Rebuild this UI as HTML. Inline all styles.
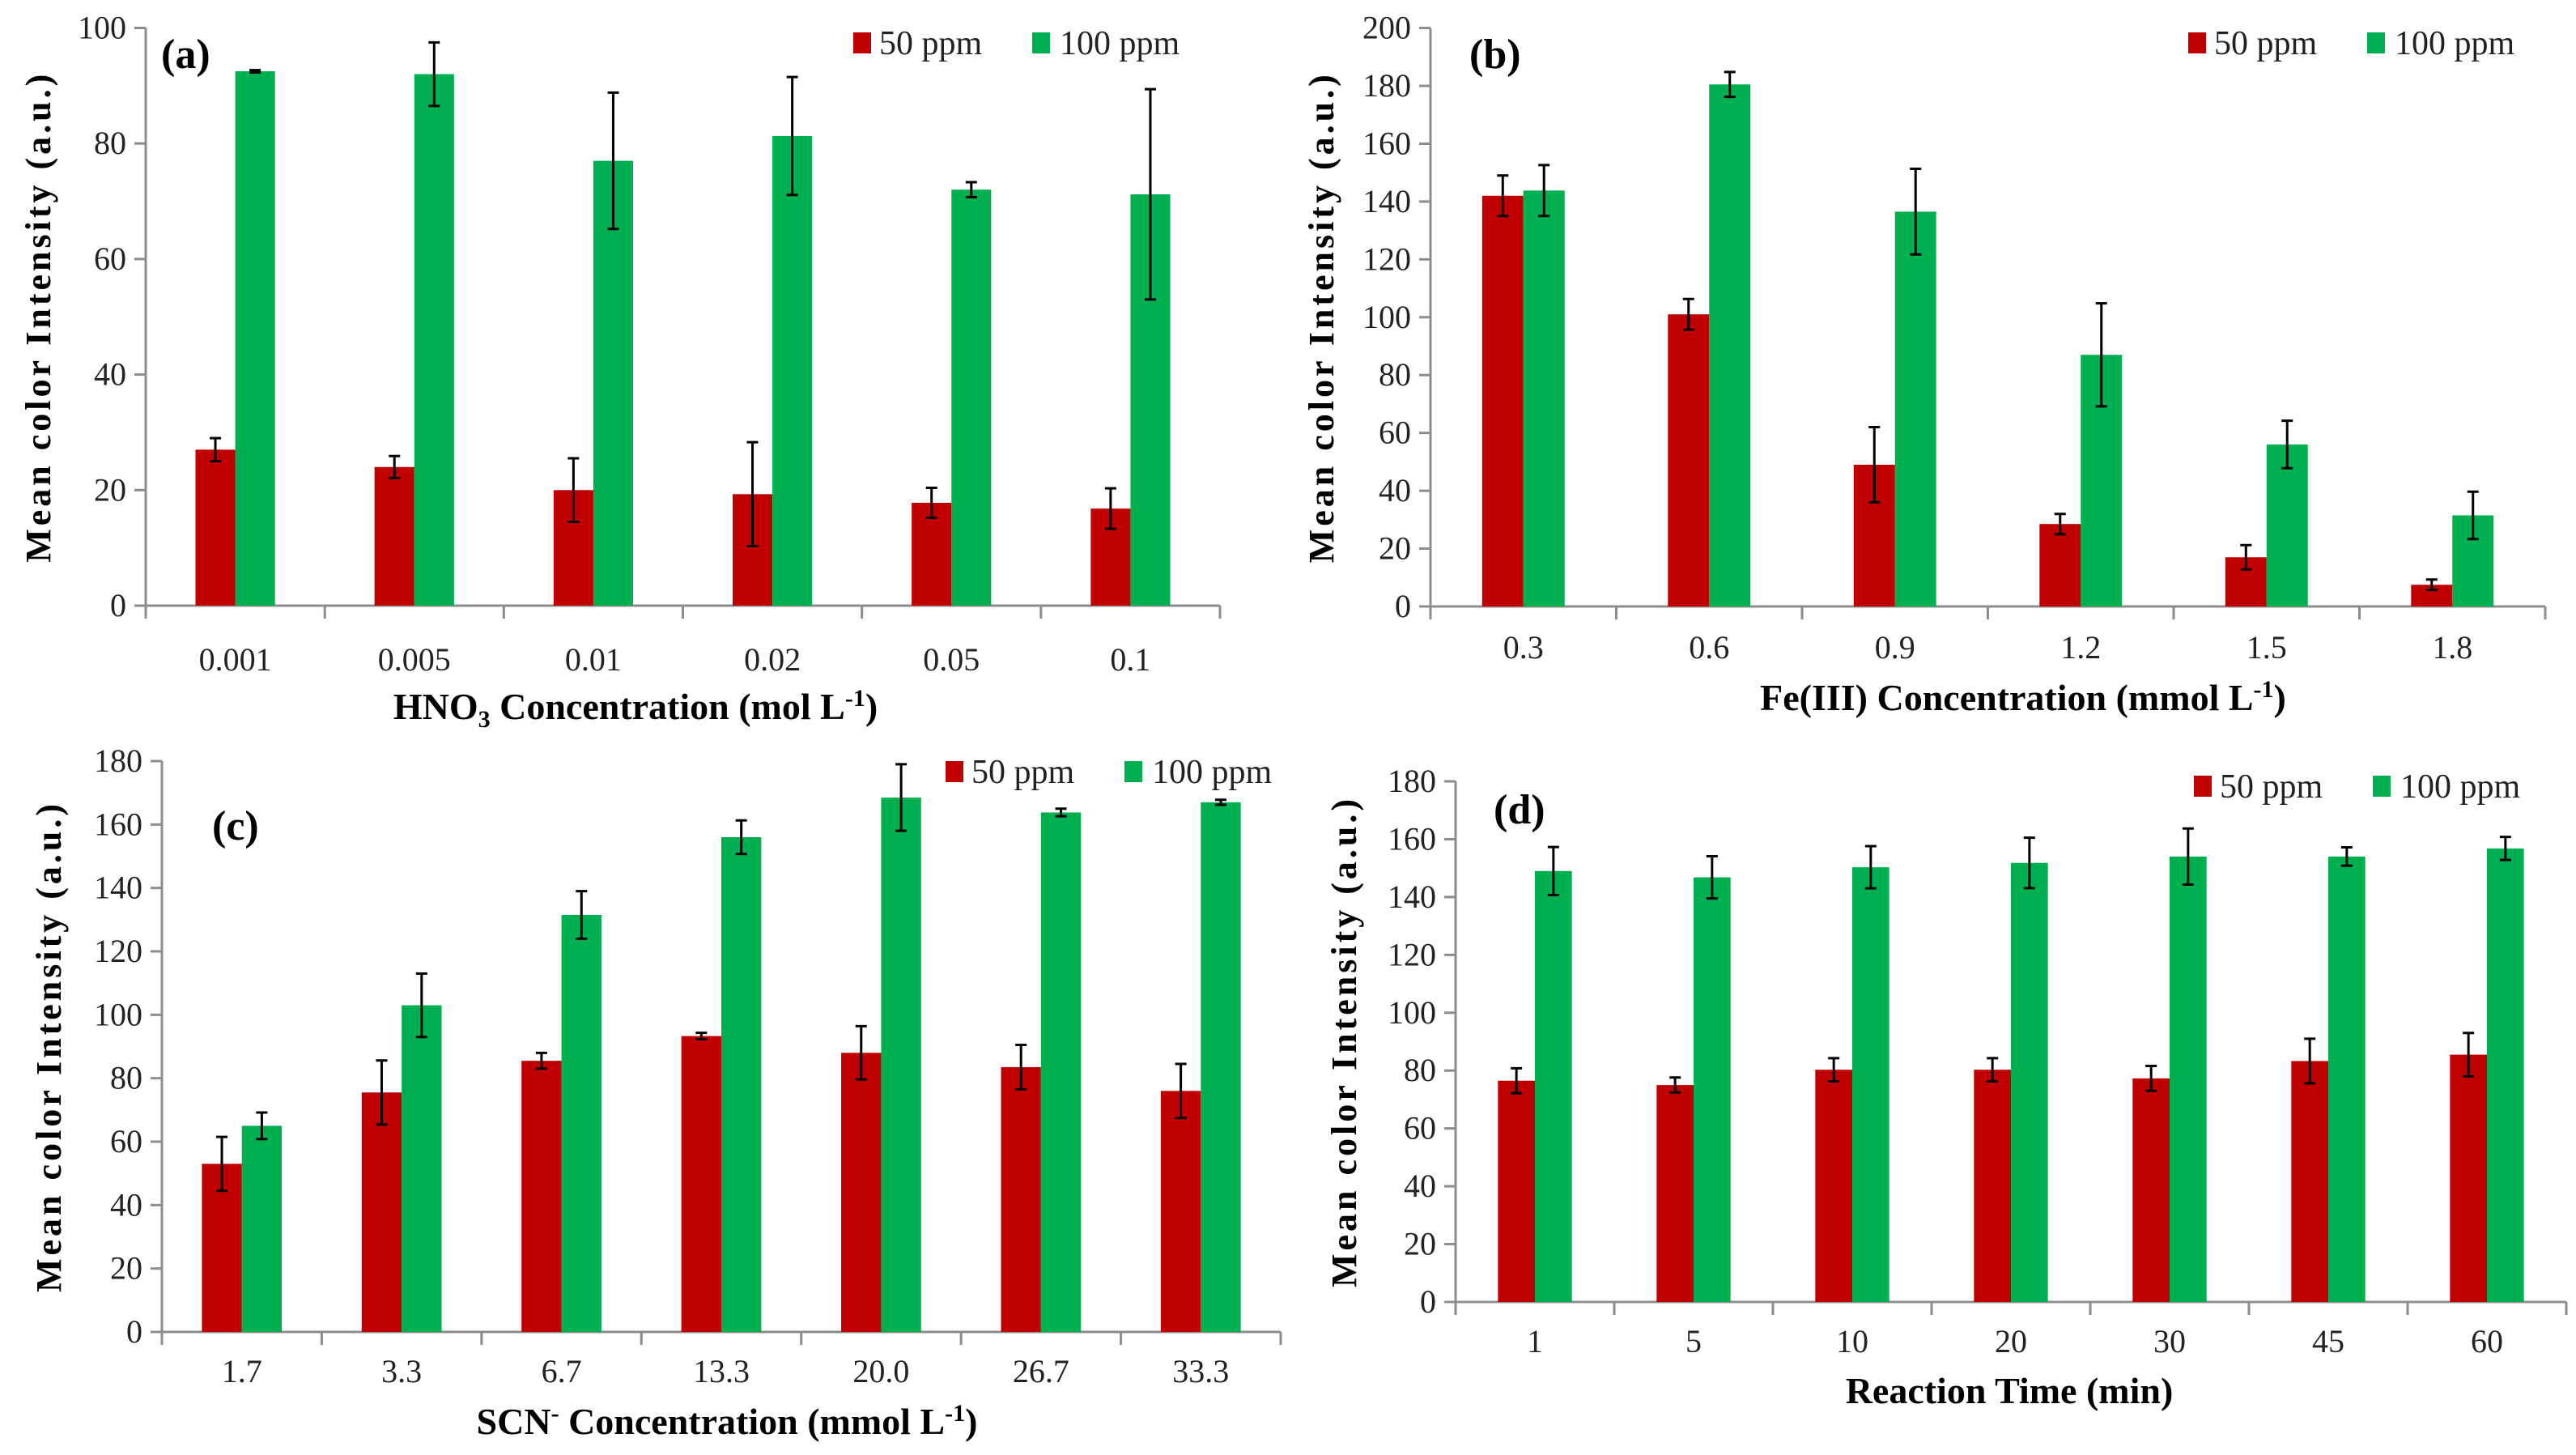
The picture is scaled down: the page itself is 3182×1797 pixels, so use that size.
<!DOCTYPE html>
<html><head><meta charset="utf-8"><style>
html,body{margin:0;padding:0;background:#fff;}
svg{display:block;font-family:"Liberation Serif","DejaVu Serif",serif;}
text{font-family:"Liberation Serif","DejaVu Serif",serif;}
</style></head><body>
<svg id="chart" width="3182" height="1797" viewBox="0 0 3182 1797" font-family="Liberation Serif, DejaVu Serif, serif" xmlns="http://www.w3.org/2000/svg"></svg>
<script>
// Panel (a)
const catsA = ["0.001","0.005","0.01","0.02","0.05","0.1"];
const redA = [27,24,20,19.3,17.8,16.8];
const redErrA = [2,1.9,5.5,9,2.6,3.5];
const greenA = [92.5,92,77,81.3,72,71.2];
const greenErrA = [0.2,5.5,11.8,10.2,1.3,18.2];
const ticksA = [0,20,40,60,80,100];
// Panel (b)
const catsB = ["0.3","0.6","0.9","1.2","1.5","1.8"];
const redB = [142,101,49,28.5,17,7.5];
const redErrB = [7,5.3,13,3.5,4.2,1.8];
const greenB = [143.8,180.5,136.5,87,56,31.5];
const greenErrB = [8.8,4.3,14.8,17.8,8.2,8.2];
const ticksB = [0,20,40,60,80,100,120,140,160,180,200];
// Panel (c)
const catsC = ["1.7","3.3","6.7","13.3","20.0","26.7","33.3"];
const redC = [53,75.5,85.5,93.3,88,83.5,76];
const redErrC = [8.5,10.1,2.5,1,8.4,7,8.5];
const greenC = [65,103,131.5,156,168.5,163.8,167];
const greenErrC = [4.2,10,7.5,5.3,10.5,1.2,0.8];
const ticksC = [0,20,40,60,80,100,120,140,160,180];
// Panel (d)
const catsD = ["1","5","10","20","30","45","60"];
const redD = [76.5,75,80.3,80.3,77.3,83.3,85.5];
const redErrD = [4.3,2.6,4,4,4.3,7.7,7.5];
const greenD = [149,146.8,150.3,151.8,154,154,156.8];
const greenErrD = [8.3,7.3,7.3,8.7,9.7,3.2,4];
const ticksD = [0,20,40,60,80,100,120,140,160,180];

const NS = "http://www.w3.org/2000/svg";
const svg = document.getElementById("chart");
function mk(tag, attrs, parent, txt){
  const e = document.createElementNS(NS, tag);
  for (const k in attrs) e.setAttribute(k, attrs[k]);
  if (txt !== undefined) e.textContent = txt;
  (parent||svg).appendChild(e);
  return e;
}

function panel(p){
  const g = mk("g", {});
  
  
  const ymax = p.ticks[p.ticks.length-1];
  const yS = v => p.y0 - (v/ymax)*(p.y0 - p.yTop);
  const n = p.cats.length;
  const cw = (p.x1 - p.x0)/n;
  const xC = i => p.x0 + cw*(i+0.5);
  const bw = cw*p.barFrac;
  const ya = mk("line", {x1:p.x0,y1:p.yTop,x2:p.x0,y2:p.y0,stroke:"#8c8c8c","stroke-width":3}, g);
  
  
  p.ticks.forEach(t => {
    const y = yS(t);
    const tk = mk("line", {x1:p.x0-14,y1:y,x2:p.x0,y2:y,stroke:"#8c8c8c","stroke-width":3}, g);
    
    
    const tl = mk("text", {x:p.x0-24,y:y+13,"text-anchor":"end","font-size":40,fill:"#222"}, g, String(t));
    
    
  });
  const xa = mk("line", {x1:p.x0,y1:p.y0,x2:p.x1,y2:p.y0,stroke:"#8c8c8c","stroke-width":3}, g);
  
  
  for (let i=0;i<=n;i++){
    const x = p.x0 + cw*i;
    const tk = mk("line", {x1:x,y1:p.y0,x2:x,y2:p.y0+16,stroke:"#8c8c8c","stroke-width":3}, g);
    
    
  }
  const series = [[p.red,p.redErr,"#c00000","red"],[p.green,p.greenErr,"#00b050","green"]];
  p.cats.forEach((c,i) => {
    series.forEach((s,k) => {
      const v = s[0][i], e = s[1][i];
      const bx = xC(i) - bw + k*bw;
      const b = mk("rect", {x:bx,y:yS(v),width:bw,height:p.y0-yS(v),fill:s[2]}, g);
      
      
      const cx = bx + bw/2;
      const eb = mk("path", {d:`M${cx},${yS(v+e)}V${yS(v-e)}M${cx-7},${yS(v+e)}H${cx+7}M${cx-7},${yS(v-e)}H${cx+7}`,stroke:"#000","stroke-width":3,fill:"none"}, g);
      
      
    });
    const xl = mk("text", {x:xC(i),y:p.xLabY,"text-anchor":"middle","font-size":40,fill:"#222"}, g, c);
    
    
  });
  const yc = (p.yTop + p.y0)/2;
  const yt = mk("text", {x:0,y:0,transform:`translate(${p.yTitleX},${yc}) rotate(-90)`,"text-anchor":"middle","font-size":44,"letter-spacing":4,"font-weight":"bold",fill:"#000"}, g, "Mean color Intensity (a.u.)");
  
  
  const xt = mk("text", {x:p.xTitleX,y:p.xTitleY,"text-anchor":"middle","font-size":46,"font-weight":"bold",fill:"#000"}, g);
  
  
  p.xTitle.forEach(part => {
    mk("tspan", part[1]==="sub"?{"font-size":30,dy:10}:part[1]==="sup"?{"font-size":30,dy:-16}:part[1]==="back"?{dy:part[2]}:{}, xt, part[0]);
  });
  const pl = mk("text", {x:p.labX,y:p.labY,"font-size":52,"font-weight":"bold",fill:"#000"}, g, "(" + p.id + ")");
  
  
  const lg = mk("g", {}, g);
  
  
  const r1 = mk("rect", {x:p.legX,y:p.legY-13,width:22,height:26,fill:"#c00000"}, lg);
  
  
  const t1 = mk("text", {x:p.legX+32,y:p.legY+14,"font-size":42,fill:"#222"}, lg, "50 ppm");
  
  
  const r2 = mk("rect", {x:p.legX+221,y:p.legY-13,width:22,height:26,fill:"#00b050"}, lg);
  
  
  const t2 = mk("text", {x:p.legX+255,y:p.legY+14,"font-size":42,fill:"#222"}, lg, "100 ppm");
  
  
}

panel({id:"a",cats:catsA,red:redA,redErr:redErrA,green:greenA,greenErr:greenErrA,ticks:ticksA,
  x0:180,x1:1507,y0:748,yTop:34.5,barFrac:0.222,xLabY:828,yTitleX:62,
  xTitle:[["HNO"],["3","sub"],[" Concentration (mol L","back",-10],["-1","sup"],[")","back",16]],xTitleX:785,xTitleY:888,
  labX:199,labY:84,legX:1054,legY:53});
panel({id:"b",cats:catsB,red:redB,redErr:redErrB,green:greenB,greenErr:greenErrB,ticks:ticksB,
  x0:1767,x1:3144,y0:749,yTop:34.6,barFrac:0.222,xLabY:813,yTitleX:1647,
  xTitle:[["Fe(III) Concentration (mmol L"],["-1","sup"],[")","back",16]],xTitleX:2499,xTitleY:877,
  labX:1815,labY:84,legX:2703,legY:53});
panel({id:"c",cats:catsC,red:redC,redErr:redErrC,green:greenC,greenErr:greenErrC,ticks:ticksC,
  x0:200,x1:1582,y0:1645,yTop:940,barFrac:0.25,xLabY:1707,yTitleX:75,
  xTitle:[["SCN"],["-","sup"],[" Concentration (mmol L","back",16],["-1","sup"],[")","back",16]],xTitleX:898,xTitleY:1771,
  labX:262,labY:1037,legX:1168,legY:953});
panel({id:"d",cats:catsD,red:redD,redErr:redErrD,green:greenD,greenErr:greenErrD,ticks:ticksD,
  x0:1798,x1:3170,y0:1608,yTop:965,barFrac:0.233,xLabY:1670,yTitleX:1675,
  xTitle:[["Reaction Time (min)"]],xTitleX:2482,xTitleY:1733,
  labX:1845,labY:1017,legX:2710,legY:971});
</script>
</body></html>
